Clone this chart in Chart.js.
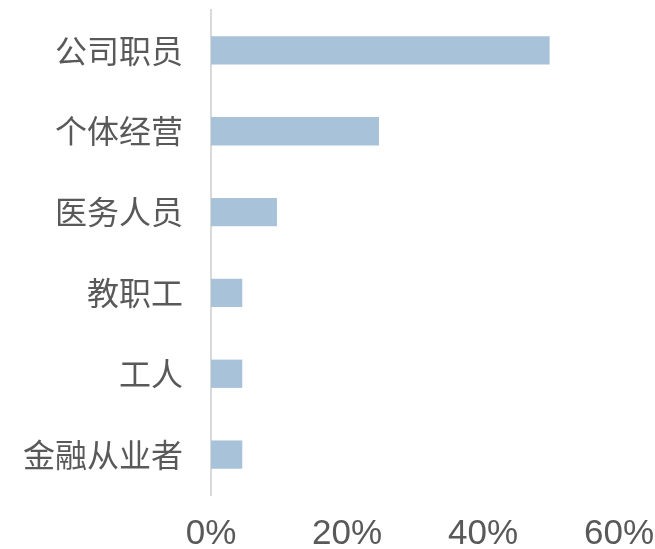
<!DOCTYPE html>
<html>
<head>
<meta charset="utf-8">
<script src="https://cdn.jsdelivr.net/npm/chart.js@4/dist/chart.umd.min.js"></script>
<style>
html,body{margin:0;padding:0;background:#fff;}
#wrap{width:655px;height:549px;position:relative;}
</style>
</head>
<body>
<div id="wrap"><canvas id="c" width="655" height="549"></canvas></div>
<script>
const categories = ["公司职员", "个体经营", "医务人员", "教职工", "工人", "金融从业者"];
const values = [49.8, 24.7, 9.7, 4.6, 4.6, 4.6];
const xTicks = [0, 20, 40, 60];

const ctx = document.getElementById('c').getContext('2d');
new Chart(ctx, {
  type: 'bar',
  data: {
    labels: categories,
    datasets: [{
      data: values,
      backgroundColor: '#A7C2D9',
      borderWidth: 0,
      categoryPercentage: 1,
      barPercentage: 0.35
    }]
  },
  options: {
    indexAxis: 'y',
    responsive: false,
    animation: false,
    layout: { padding: { top: 10, right: 36, bottom: 0, left: 0 } },
    plugins: { legend: { display: false }, tooltip: { enabled: false } },
    scales: {
      x: {
        min: xTicks[0],
        max: xTicks[xTicks.length - 1],
        afterBuildTicks: (s) => { s.ticks = xTicks.map(v => ({ value: v })); },
        grid: { display: false, drawTicks: false },
        border: { display: false },
        ticks: {
          color: '#595959',
          padding: 18,
          font: { family: '"Liberation Sans", Arial, sans-serif', size: 35 },
          callback: (v) => v + '%'
        },
        afterFit: (s) => { s.height = 54; s.paddingLeft = 0; s.paddingRight = 0; }
      },
      y: {
        grid: { display: false, drawTicks: false },
        border: { display: true, color: '#D9D9D9', width: 2 },
        ticks: {
          color: '#595959',
          padding: 28,
          font: { family: '"Noto Sans CJK SC", sans-serif', size: 32 }
        },
        afterFit: (s) => { s.width = 211; s.paddingTop = 0; s.paddingBottom = 0; }
      }
    }
  }
});
</script>
</body>
</html>
